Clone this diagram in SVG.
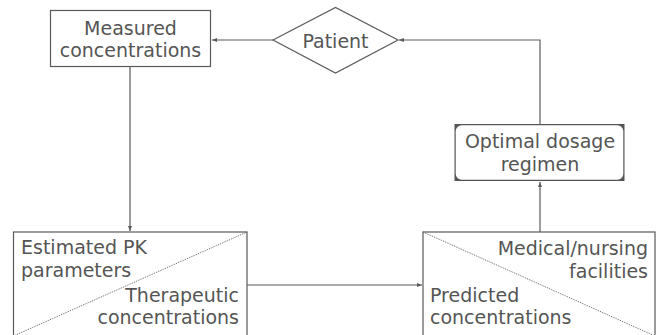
<svg xmlns="http://www.w3.org/2000/svg" width="660" height="335" viewBox="0 0 660 335">
<defs>
<style>
.box{fill:#fff;stroke:#5a5a5a;stroke-width:1.2}
.diag{fill:none;stroke:#666;stroke-width:1;stroke-dasharray:1 1}
.conn{fill:none;stroke:#5a5a5a;stroke-width:1.2}
text{font-family:"DejaVu Sans","Open Sans",sans-serif;font-size:19px;fill:#555}
.c{text-anchor:middle}
.r{text-anchor:end}
</style>
<marker id="ah" viewBox="0 0 6 6" refX="6" refY="3" markerWidth="5" markerHeight="5" orient="auto" markerUnits="userSpaceOnUse">
<path d="M0,0.6 L6,3 L0,5.4 Z" fill="#5a5a5a"/>
</marker>
</defs>
<g id="connectors">
<path class="conn" d="M130,66.5 V231" marker-end="url(#ah)"/>
<path class="conn" d="M273,40 H212" marker-end="url(#ah)"/>
<path class="conn" d="M540,124 V40 H399" marker-end="url(#ah)"/>
<path class="conn" d="M247,285 H422" marker-end="url(#ah)"/>
<path class="conn" d="M540,232 V182" marker-end="url(#ah)"/>
</g>
<g id="measured">
<rect class="box" x="50.5" y="10.5" width="160" height="56"/>
<text class="c" x="130.5" y="34.5">Measured</text>
<text class="c" x="130.5" y="57">concentrations</text>
</g>
<g id="patient">
<polygon class="box" points="273,40 335.5,7.5 398,40 335.5,73"/>
<text class="c" x="335.5" y="47.5">Patient</text>
</g>
<g id="optimal">
<rect x="454.5" y="124" width="170" height="57" fill="#555"/>
<rect x="455.7" y="125.2" width="167.6" height="54.6" rx="6" fill="#fff"/>
<text class="c" x="540" y="148">Optimal dosage</text>
<text class="c" x="540" y="171">regimen</text>
</g>
<g id="left-box">
<rect class="box" x="13.5" y="232" width="233.5" height="104"/>
<line class="diag" x1="13.5" y1="336" x2="247" y2="232"/>
<text x="21" y="254">Estimated PK</text>
<text x="21" y="277">parameters</text>
<text class="r" x="239" y="302">Therapeutic</text>
<text class="r" x="239" y="324">concentrations</text>
</g>
<g id="right-box">
<rect class="box" x="423" y="232" width="232" height="104"/>
<line class="diag" x1="423" y1="232" x2="655" y2="336"/>
<text class="r" x="648" y="255">Medical/nursing</text>
<text class="r" x="648" y="278">facilities</text>
<text x="430" y="302">Predicted</text>
<text x="430" y="324">concentrations</text>
</g>
</svg>
